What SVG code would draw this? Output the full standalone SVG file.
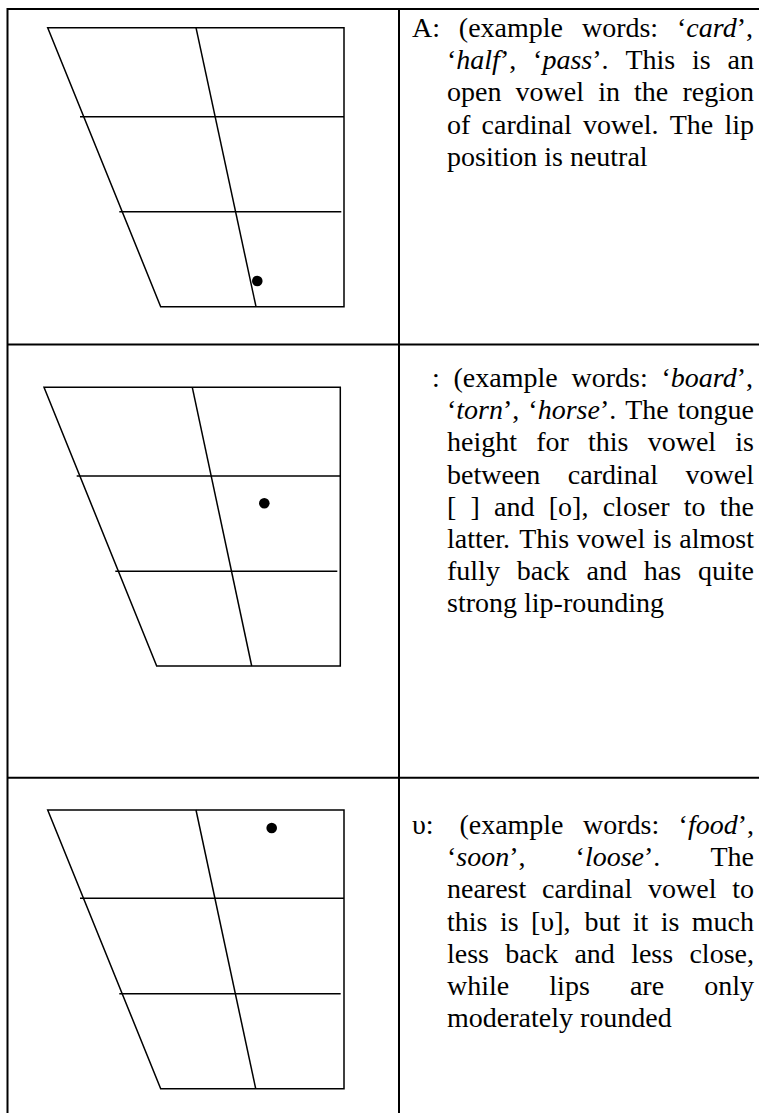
<svg xmlns="http://www.w3.org/2000/svg" width="759" height="1113" viewBox="0 0 759 1113">
<style>
.tb{stroke:#000;stroke-width:2;fill:none}
.ln{stroke:#000;stroke-width:1.5;fill:none}
.dot{fill:#000}
text{font-family:"Liberation Serif","Times New Roman","DejaVu Serif",serif;font-size:28px;fill:#000}
.i{font-style:italic}
</style>
<rect width="759" height="1113" fill="#fff"/>
<g id="table">
<line class="tb" x1="7.5" y1="9" x2="759" y2="9"/>
<line class="tb" x1="7.5" y1="8" x2="7.5" y2="1113"/>
<line class="tb" x1="399" y1="8" x2="399" y2="1113"/>
<line class="tb" x1="7.5" y1="344.5" x2="759" y2="344.5"/>
<line class="tb" x1="7.5" y1="777.7" x2="759" y2="777.7"/>
</g>
<g id="chart1">
<polygon class="ln" points="47.7,27.7 344,27.7 344,306.7 160.7,306.7"/>
<line class="ln" x1="196" y1="27.7" x2="256" y2="306.7"/>
<line class="ln" x1="80" y1="116.7" x2="344" y2="116.7"/>
<line class="ln" x1="119.3" y1="211.7" x2="341.3" y2="211.7"/>
<circle class="dot" cx="257.3" cy="281" r="5.3"/>
</g>
<g id="chart2">
<polygon class="ln" points="44,387.3 340.3,387.3 340.3,666 156.7,666"/>
<line class="ln" x1="192.3" y1="387.3" x2="251.7" y2="666"/>
<line class="ln" x1="76.7" y1="476" x2="340.3" y2="476"/>
<line class="ln" x1="115.3" y1="571.3" x2="337.3" y2="571.3"/>
<circle class="dot" cx="264.3" cy="503.3" r="5.3"/>
</g>
<g id="chart3">
<polygon class="ln" points="47.7,810 344,810 344,1088.7 160.7,1088.7"/>
<line class="ln" x1="196" y1="810" x2="255.7" y2="1088.7"/>
<line class="ln" x1="80" y1="898.3" x2="344" y2="898.3"/>
<line class="ln" x1="119.3" y1="993.7" x2="340.7" y2="993.7"/>
<circle class="dot" cx="271.7" cy="828" r="5.3"/>
</g>
<g id="text1">
<text y="37"><tspan x="412">A:</tspan><tspan x="458.87">(example</tspan><tspan x="581.93">words:</tspan><tspan x="677.02">‘<tspan class="i">card</tspan>’,</tspan></text>
<text y="69.2"><tspan x="447">‘<tspan class="i">half</tspan>’,</tspan><tspan x="533.08">‘<tspan class="i">pass</tspan>’.</tspan><tspan x="625.38">This</tspan><tspan x="692.03">is</tspan><tspan x="727.57">an</tspan></text>
<text y="101.4"><tspan x="447">open</tspan><tspan x="515.58">vowel</tspan><tspan x="598.16">in</tspan><tspan x="634.09">the</tspan><tspan x="682.46">region</tspan></text>
<text y="133.6"><tspan x="447">of</tspan><tspan x="481.56">cardinal</tspan><tspan x="582.99">vowel.</tspan><tspan x="669.66">The</tspan><tspan x="724.44">lip</tspan></text>
<text y="165.8" x="447">position is neutral</text>
</g>
<g id="text2">
<text y="387"><tspan x="432">:</tspan><tspan x="453.54">(example</tspan><tspan x="571.49">words:</tspan><tspan x="661.47">‘<tspan class="i">board</tspan>’,</tspan></text>
<text y="419.2"><tspan x="447">‘<tspan class="i">torn</tspan>’,</tspan><tspan x="528.34">‘<tspan class="i">horse</tspan>’.</tspan><tspan x="625.22">The</tspan><tspan x="677.78">tongue</tspan></text>
<text y="451.4"><tspan x="447">height</tspan><tspan x="536.2">for</tspan><tspan x="588.05">this</tspan><tspan x="647.71">vowel</tspan><tspan x="735.34">is</tspan></text>
<text y="483.6"><tspan x="447">between</tspan><tspan x="567.84">cardinal</tspan><tspan x="685.57">vowel</tspan></text>
<text y="515.8"><tspan x="447">[</tspan><tspan x="470.56">]</tspan><tspan x="494.12">and</tspan><tspan x="548.79">[o],</tspan><tspan x="602.68">closer</tspan><tspan x="683.78">to</tspan><tspan x="719.8">the</tspan></text>
<text y="548"><tspan x="447">latter.</tspan><tspan x="519.26">This</tspan><tspan x="576.76">vowel</tspan><tspan x="652.91">is</tspan><tspan x="679.31">almost</tspan></text>
<text y="580.2"><tspan x="447">fully</tspan><tspan x="516.76">back</tspan><tspan x="586.49">and</tspan><tspan x="643.79">has</tspan><tspan x="697.98">quite</tspan></text>
<text y="612.4" x="447">strong lip-rounding</text>
</g>
<g id="text3">
<text y="834"><tspan x="412">υ:</tspan><tspan x="459.39">(example</tspan><tspan x="582.97">words:</tspan><tspan x="678.58">‘<tspan class="i">food</tspan>’,</tspan></text>
<text y="866.2"><tspan x="447">‘<tspan class="i">soon</tspan>’,</tspan><tspan x="575.62">‘<tspan class="i">loose</tspan>’.</tspan><tspan x="710.46">The</tspan></text>
<text y="898.4"><tspan x="447">nearest</tspan><tspan x="542.07">cardinal</tspan><tspan x="648.03">vowel</tspan><tspan x="732.23">to</tspan></text>
<text y="930.6"><tspan x="447">this</tspan><tspan x="499.89">is</tspan><tspan x="531">[υ],</tspan><tspan x="584.48">but</tspan><tspan x="632.69">it</tspan><tspan x="660.69">is</tspan><tspan x="691.8">much</tspan></text>
<text y="962.8"><tspan x="447">less</tspan><tspan x="505.29">back</tspan><tspan x="574.44">and</tspan><tspan x="631.16">less</tspan><tspan x="689.45">close,</tspan></text>
<text y="995"><tspan x="447">while</tspan><tspan x="549.34">lips</tspan><tspan x="629.92">are</tspan><tspan x="704.23">only</tspan></text>
<text y="1027.2" x="447">moderately rounded</text>
</g>
</svg>
